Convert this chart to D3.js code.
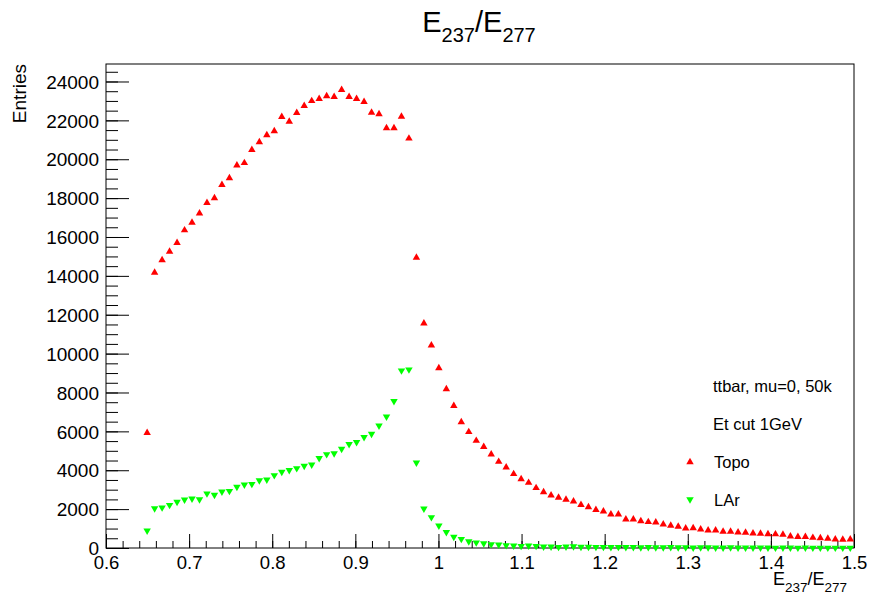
<!DOCTYPE html>
<meta charset="utf-8">
<style>
  body { margin: 0; background: #fff; }
  svg { font-family: "Liberation Sans", Arial, Helvetica, sans-serif; }
  .frame { fill: none; stroke: #000; stroke-width: 1; }
  .tick line { stroke: #000; stroke-width: 1; }
</style>
<svg width="874" height="599"></svg>
<script src="https://cdnjs.cloudflare.com/ajax/libs/d3/7.8.5/d3.min.js"></script>
<script>

  // histogram binning: 100 bins between 0.6 and 1.5, first filled bin is #5
  var nBins = 100, xLow = 0.6, xHigh = 1.5, firstBin = 5;

  // Topo entries per bin (bins 5..99)
  var topo = [5930, 14170, 14810, 15250, 15700, 16350, 16740, 17220, 17760, 18000,
              18680, 19030, 19690, 19810, 20480, 20880, 21240, 21450, 22180, 21940,
              22390, 22750, 23000, 23110, 23250, 23210, 23570, 23210, 23110, 22950,
              22400, 22320, 21600, 21600, 22200, 21070, 14940, 11560, 10430, 9260,
              8180, 7310, 6480, 5970, 5520, 5210, 4820, 4440, 4150, 3810,
              3550, 3360, 3090, 2880, 2710, 2590, 2490, 2400, 2220, 2110,
              1960, 1890, 1730, 1730, 1480, 1480, 1390, 1340, 1320, 1220,
              1150, 1100, 1010, 1030, 960, 910, 910, 840, 840, 810,
              790, 760, 740, 720, 710, 690, 600, 580, 570, 530,
              510, 480, 450, 430, 450];

  // LAr entries per bin (bins 5..99)
  var lar = [890, 2040, 2080, 2210, 2370, 2490, 2540, 2500, 2800, 2730,
             2900, 2930, 3140, 3260, 3290, 3480, 3520, 3740, 3910, 4000,
             4100, 4220, 4290, 4620, 4820, 4870, 5100, 5340, 5440, 5700,
             5870, 6290, 6760, 7550, 9130, 9180, 4390, 2020, 1580, 1150,
             810, 570, 460, 340, 280, 240, 190, 170, 140, 120,
             100, 120, 100, 70, 70, 50, 70, 80, 60, 60,
             50, 50, 40, 50, 40, 40, 30, 40, 30, 30,
             40, 30, 30, 20, 30, 30, 20, 20, 30, 20,
             20, 20, 20, 20, 10, 20, 20, 10, 20, 10,
             10, 10, 10, 10, 10];

  var xTicks = [0.6, 0.7, 0.8, 0.9, 1, 1.1, 1.2, 1.3, 1.4, 1.5];
  var yTicks = [0, 2000, 4000, 6000, 8000, 10000, 12000, 14000, 16000, 18000, 20000, 22000, 24000];

  var legendNotes = ["ttbar, mu=0, 50k", "Et cut 1GeV"];
  var legendSeries = [{name: "Topo", color: "#ff0000", up: true},
                      {name: "LAr", color: "#00ff00", up: false}];

  var svg = d3.select("svg"),
      width = +svg.attr("width"),
      height = +svg.attr("height");

  var margin = {top: 64, right: 20, bottom: 51, left: 106};
  var w = width - margin.left - margin.right,
      h = height - margin.top - margin.bottom;

  var x = d3.scaleLinear().domain([xLow, xHigh]).range([0, w]);
  var y = d3.scaleLinear().domain([0, 24900]).range([h, 0]);

  var g = svg.append("g").attr("transform", "translate(" + margin.left + "," + margin.top + ")");

  // minor ticks
  var xMinor = d3.range(0, 46).map(function (i) { return +(0.6 + i * 0.02).toFixed(2); });
  var yMinor = d3.range(0, 50).map(function (i) { return i * 500; });

  g.append("g")
        .attr("transform", "translate(0," + h + ")")
        .call(d3.axisTop(x).tickValues(xMinor).tickSize(7).tickFormat(""))
        .call(function (s) { s.select(".domain").remove(); });
  g.append("g")
        .call(d3.axisRight(y).tickValues(yMinor).tickSize(12).tickFormat(""))
        .call(function (s) { s.select(".domain").remove(); });

  // major ticks with labels
  var xAxis = g.append("g")
        .attr("transform", "translate(0," + h + ")")
        .call(d3.axisTop(x).tickValues(xTicks).tickSize(14).tickFormat(d3.format("")));
  xAxis.select(".domain").remove();
  xAxis.selectAll("text")
        .attr("y", 8)
        .attr("dy", "0.71em")
        .attr("font-size", 18.5)
        .attr("fill", "#000");

  var yAxis = g.append("g")
        .call(d3.axisRight(y).tickValues(yTicks).tickSize(23).tickFormat(d3.format("d")));
  yAxis.select(".domain").remove();
  yAxis.selectAll("text")
        .attr("x", -7)
        .attr("text-anchor", "end")
        .attr("dy", "0.35em")
        .attr("font-size", 19)
        .attr("fill", "#000");

  g.append("rect").attr("class", "frame").attr("x", 0).attr("y", 0).attr("width", w).attr("height", h);

  function binCenter(k) {
    var bw = (xHigh - xLow) / nBins;
    return xLow + bw * (firstBin + k + 0.5);
  }

  var tri = d3.symbol().type(d3.symbolTriangle).size(24);

  function drawSeries(values, color, up) {
    g.append("g").selectAll("path")
          .data(values)
          .enter().append("path")
          .attr("d", tri)
          .attr("fill", color)
          .attr("transform", function (d, k) {
            return "translate(" + x(binCenter(k)) + "," + y(d) + ")" + (up ? "" : " rotate(180)");
          });
  }
  drawSeries(topo, "#ff0000", true);
  drawSeries(lar, "#00ff00", false);

  // legend
  var leg = svg.append("g").attr("font-size", 16.5);
  leg.selectAll("text.note")
        .data(legendNotes)
        .enter().append("text")
        .attr("class", "note")
        .attr("x", 713)
        .attr("y", function (d, i) { return 392 + i * 37.5; })
        .text(function (d) { return d; });
  legendSeries.forEach(function (s, i) {
    var yy = 462 + i * 37.5;
    leg.append("path")
          .attr("d", tri)
          .attr("fill", s.color)
          .attr("transform", "translate(690," + yy + ")" + (s.up ? "" : " rotate(180)"));
    leg.append("text")
          .attr("x", 714)
          .attr("y", yy + 6)
          .text(s.name);
  });

  // titles
  var title = svg.append("text")
        .attr("x", 479)
        .attr("y", 32)
        .attr("text-anchor", "middle")
        .attr("font-size", 29);
  title.append("tspan").text("E");
  title.append("tspan").attr("font-size", 20).attr("dy", 10).text("237");
  title.append("tspan").attr("dy", -10).text("/E");
  title.append("tspan").attr("font-size", 20).attr("dy", 10).text("277");

  var xTitle = svg.append("text")
        .attr("x", 847)
        .attr("y", 585)
        .attr("text-anchor", "end")
        .attr("font-size", 18);
  xTitle.append("tspan").text("E");
  xTitle.append("tspan").attr("font-size", 13.5).attr("dy", 7).text("237");
  xTitle.append("tspan").attr("dy", -7).text("/E");
  xTitle.append("tspan").attr("font-size", 13.5).attr("dy", 7).text("277");

  svg.append("text")
        .attr("transform", "translate(26,64) rotate(-90)")
        .attr("text-anchor", "end")
        .attr("font-size", 19)
        .text("Entries");

</script>
